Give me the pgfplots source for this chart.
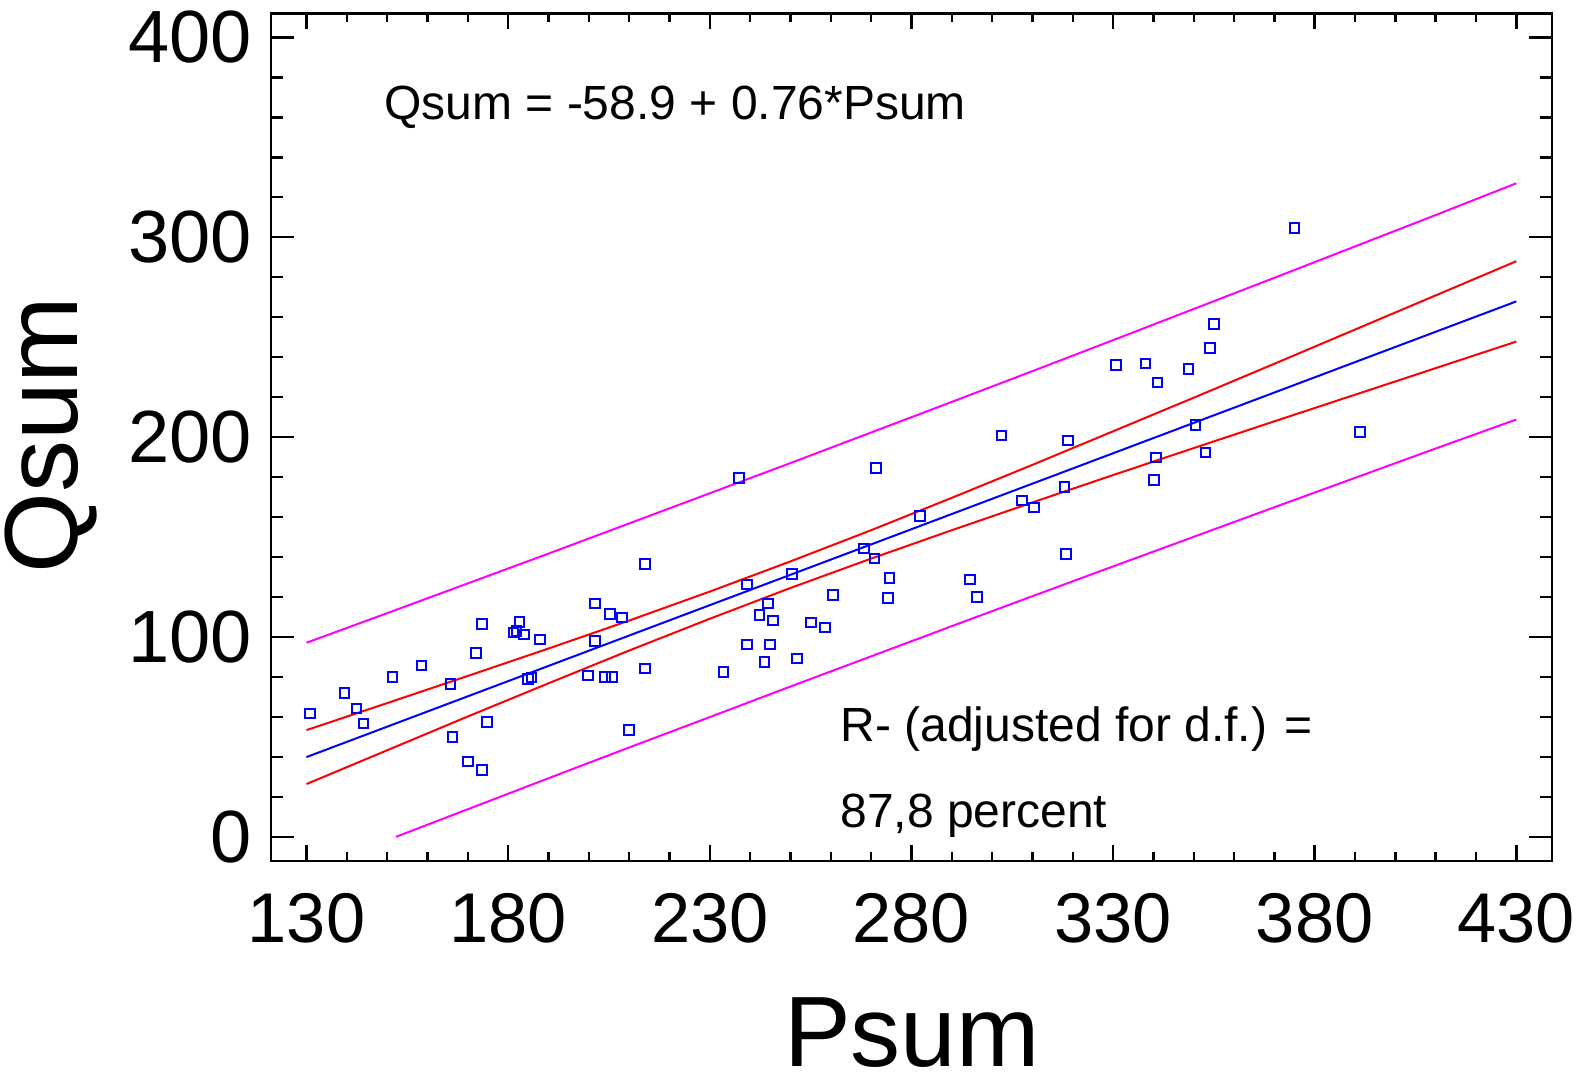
\documentclass[border=0pt]{standalone}
\usepackage{fontspec}
\setmainfont{Liberation Sans}
\usepackage{pgfplots}
\usepackage{pgfplotstable}
\pgfplotsset{compat=1.18}
\definecolor{pblue}{RGB}{0,0,255}
\definecolor{pred}{RGB}{255,0,0}
\definecolor{pmag}{RGB}{255,0,255}

\pgfplotstableread{
P Q
130.9 61.8
139.4 72.1
142.4 64.2
144.1 56.7
151.3 79.9
158.5 85.8
165.7 76.4
166.2 49.9
170.0 37.7
173.5 33.5
172.1 91.9
173.5 106.4
174.7 57.5
181.3 102.3
182.1 102.9
182.8 107.4
184.0 101.3
184.9 78.9
185.8 79.8
187.9 98.8
201.5 116.8
201.5 97.9
199.8 80.8
204.0 79.9
205.7 79.9
205.3 111.4
208.2 109.8
209.9 53.4
213.9 136.5
213.9 84.3
237.2 179.5
233.4 82.4
239.3 126.3
239.3 96.3
242.3 110.9
244.4 116.8
245.7 108.3
244.9 96.3
243.6 87.6
250.4 131.5
251.6 89.3
255.1 107.3
258.5 104.8
260.6 121.1
268.3 144.3
270.8 139.3
271.2 184.5
274.6 129.6
274.2 119.4
282.2 160.6
294.6 128.8
296.3 120.1
302.3 200.8
307.4 168.3
310.4 164.8
318.0 175.1
318.4 141.6
318.9 198.3
330.8 236.0
338.0 236.9
341.0 227.4
340.6 189.8
340.1 178.5
348.7 234.2
350.4 206.0
352.9 192.3
354.1 244.7
355.0 256.7
375.0 304.7
391.2 202.7
}\pts

\pgfplotstableread{
P fit cu cl pu
130 39.9 53.4 26.4 97.1
150 55.1 66.9 43.3 111.9
170 70.3 80.5 60.2 126.8
190 85.5 94.2 76.8 141.7
210 100.7 108.2 93.2 156.8
230 115.9 122.7 109.1 171.9
250 131.1 137.8 124.5 187.0
270 146.3 153.4 139.2 202.3
290 161.5 169.6 153.4 217.6
310 176.7 186.1 167.3 233.0
330 191.9 202.9 181.0 248.5
350 207.1 219.7 194.5 264.1
370 222.3 236.7 207.9 279.7
390 237.5 253.8 221.2 295.4
410 252.7 270.9 234.5 311.1
430 267.9 288.0 247.8 327.0
}\bands

\pgfplotstableread{
P pl
152.2 0
170 13.8
190 29.3
210 44.7
230 59.9
250 75.2
270 90.3
290 105.4
310 120.4
330 135.3
350 150.1
370 164.9
390 179.6
410 194.3
430 208.8
}\lowband

\begin{document}
\begin{tikzpicture}
\useasboundingbox (-67.75bp,-56.3bp) rectangle (327.25bp,215.2bp);
\begin{axis}[
  at={(0,0)}, anchor=south west,
  scale only axis, width=320.2bp, height=211.85bp,
  xmin=121.2, xmax=438.8, ymin=-12, ymax=412,
  xtick={130,180,...,430}, ytick={0,100,...,400},
  minor x tick num=4, minor y tick num=4,
  tick align=inside,
  xtick pos=both, ytick pos=both,
  xticklabel pos=lower, yticklabel pos=left,
  axis line style={line width=0.6bp, black},
  every tick/.style={black, line width=0.6bp},
  major tick length=5.8bp, minor tick length=3bp,
  xtick style={/pgfplots/major tick length=3.9bp, /pgfplots/minor tick length=2.2bp},
  yticklabel style={font=\fontsize{18.5bp}{21bp}\selectfont, xshift=-1.2bp},
  xticklabel style={font=\fontsize{17.6bp}{20bp}\selectfont, yshift=-4.6bp},
  /pgf/number format/assume math mode=true,
  /pgf/number format/1000 sep={},
  clip=false,
]
\addplot[pmag, line width=0.5bp] table[x=P, y=pu] {\bands};
\addplot[pmag, line width=0.5bp] table[x=P, y=pl] {\lowband};
\addplot[pred, line width=0.5bp] table[x=P, y=cu] {\bands};
\addplot[pred, line width=0.5bp] table[x=P, y=cl] {\bands};
\addplot[pblue, line width=0.5bp] table[x=P, y=fit] {\bands};
\addplot[only marks, mark=square, mark size=1.2bp, pblue, mark options={line width=0.5bp}] table[x=P, y=Q] {\pts};
\node[anchor=base west, inner sep=0pt, font=\fontsize{12bp}{14bp}\selectfont] at (axis cs:149.1,359.0) {Qsum = -58.9 + 0.76*Psum};
\node[anchor=base west, inner sep=0pt, font=\fontsize{12bp}{14bp}\selectfont] at (axis cs:262.2,47.9) {R- (adjusted for d.f.) =};
\node[anchor=base west, inner sep=0pt, font=\fontsize{12bp}{14bp}\selectfont] at (axis cs:262.2,4.5) {87,8 percent};
\end{axis}
\node[anchor=base, rotate=90, inner sep=0pt, font=\fontsize{26bp}{30bp}\selectfont] at (-48.4bp,106.4bp) {Qsum};
\node[anchor=base, inner sep=0pt, font=\fontsize{25bp}{29bp}\selectfont] at (160.25bp,-51.4bp) {Psum};
\end{tikzpicture}
\end{document}
